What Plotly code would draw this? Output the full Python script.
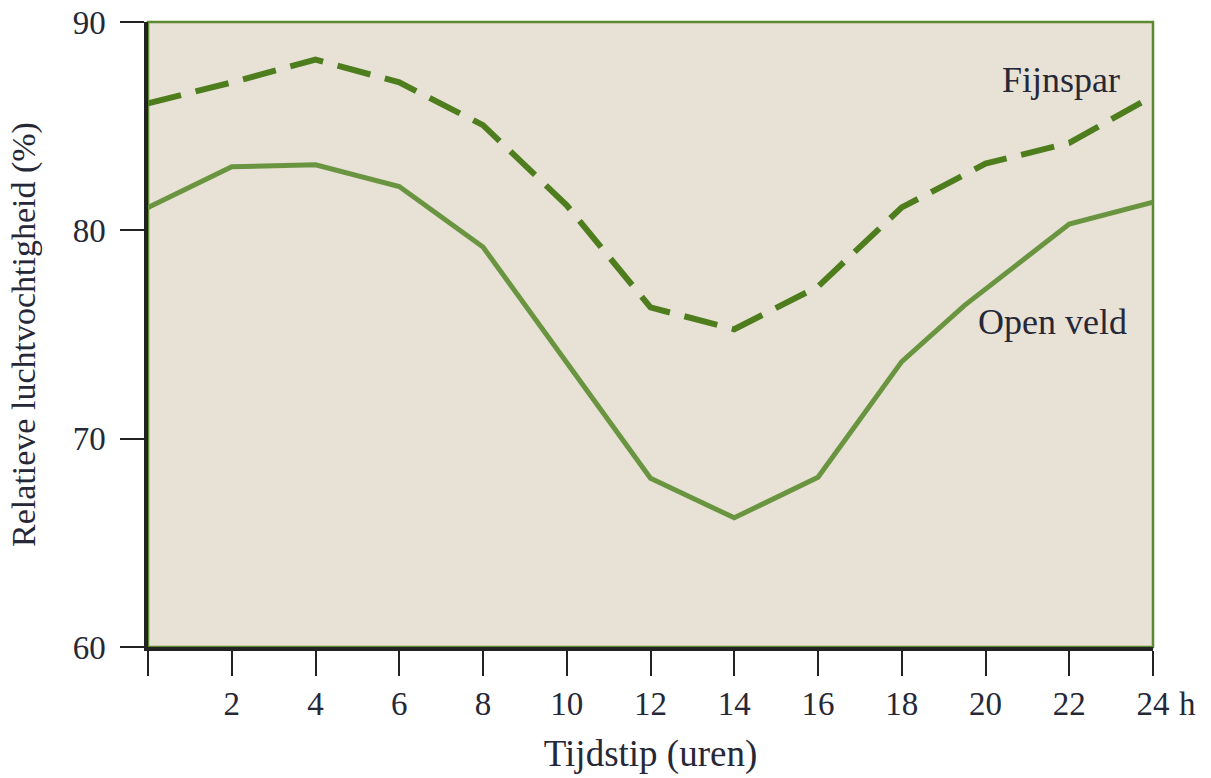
import plotly.graph_objects as go

# Relatieve luchtvochtigheid (%) per tijdstip (uren)
hours_fijnspar = [0, 2, 4, 6, 8, 10, 12, 14, 16, 18, 20, 22, 24]
fijnspar = [86.1, 87.1, 88.2, 87.1, 85.05, 81.2, 76.3, 75.25, 77.3, 81.1, 83.2, 84.2, 86.45]

hours_open = [0, 2, 4, 6, 8, 12, 14, 16, 18, 19.5, 22, 24]
open_veld = [81.1, 83.05, 83.15, 82.1, 79.2, 68.1, 66.2, 68.15, 73.7, 76.4, 80.3, 81.35]

x_ticks = [0, 2, 4, 6, 8, 10, 12, 14, 16, 18, 20, 22, 24]
x_labels = [""] + [str(h) for h in x_ticks[1:]]
y_ticks = [60, 70, 80, 90]

FONT = "Liberation Serif"
TXT = "#262838"

fig = go.Figure()
fig.add_trace(go.Scatter(
    x=hours_open, y=open_veld, mode="lines",
    line=dict(color="#6A9540", width=5),
))
fig.add_trace(go.Scatter(
    x=hours_fijnspar, y=fijnspar, mode="lines",
    line=dict(color="#4E7D1E", width=6, dash="34px,15px"),
))

fig.add_annotation(x=21.8, y=87.2, text="Fijnspar", showarrow=False,
                   font=dict(family=FONT, size=36, color=TXT))
fig.add_annotation(x=21.6, y=75.6, text="Open veld", showarrow=False,
                   font=dict(family=FONT, size=36, color=TXT))
fig.add_annotation(xref="paper", yref="paper", x=1, y=0, xanchor="left",
                   yanchor="middle", xshift=24, yshift=-57, text="h", showarrow=False,
                   font=dict(family=FONT, size=33, color=TXT))

# green frame on top and right
fig.add_shape(type="rect", xref="paper", yref="paper", x0=0, y0=0, x1=1, y1=1,
              line=dict(color="#5B8A2E", width=2.5), layer="below")

fig.update_layout(
    width=1211, height=778,
    margin=dict(l=148, r=58, t=22, b=131, autoexpand=False),
    paper_bgcolor="white",
    plot_bgcolor="#E8E1D5",
    showlegend=False,
    font=dict(family=FONT, size=33, color=TXT),
)
fig.update_xaxes(
    range=[0, 24], tickvals=x_ticks, ticktext=x_labels, ticks="outside",
    ticklen=25, tickwidth=2, tickcolor="#222", showline=True, linecolor="#222",
    linewidth=3.5, showgrid=False, zeroline=False, ticklabelstandoff=0,
    tickfont=dict(size=33), ticklabeloverflow="allow",
    title=dict(text="Tijdstip (uren)", standoff=20, font=dict(size=37)),
)
fig.update_yaxes(
    range=[60, 90], tickvals=y_ticks, ticks="outside", ticklen=24, tickwidth=2,
    tickcolor="#222", showline=True, linecolor="#222", linewidth=3.5,
    showgrid=False, zeroline=False, ticklabelstandoff=8,
    tickfont=dict(size=33), ticklabeloverflow="allow",
    title=dict(text="Relatieve luchtvochtigheid (%)", standoff=28, font=dict(size=34)),
)

# drop the default 8px body margin so the figure sits at the window's corner
fig.write_html("out.html", config={"displayModeBar": False},
               post_script="document.body.style.margin='0';")
